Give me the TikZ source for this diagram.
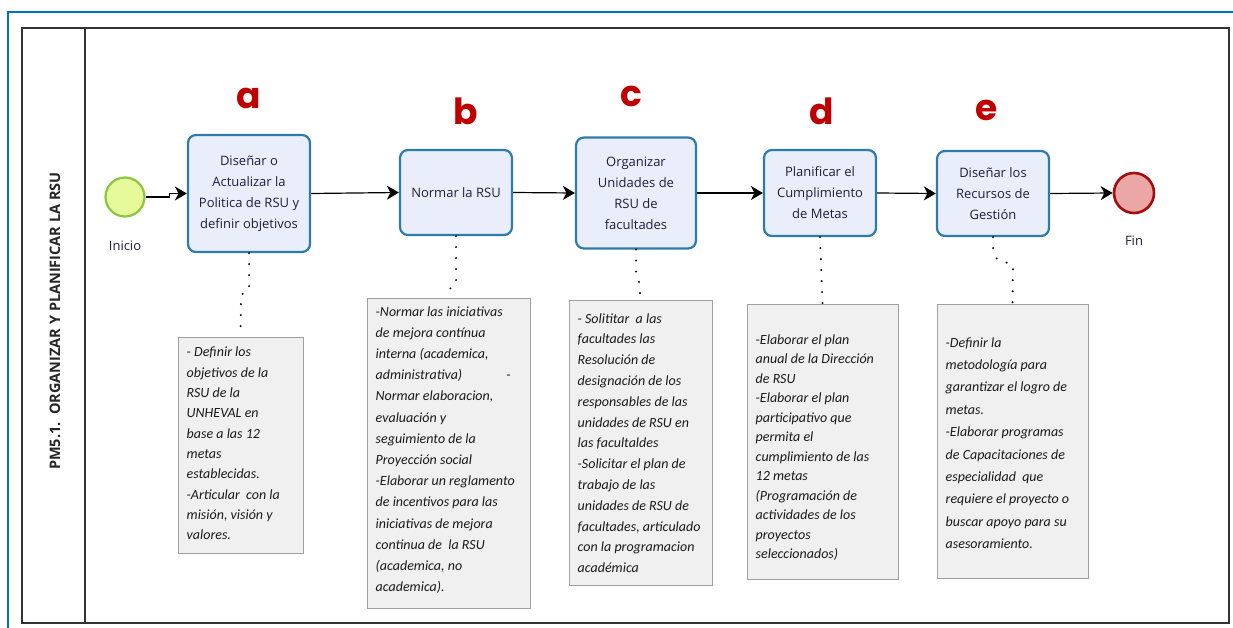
\documentclass[tikz,border=0pt]{standalone}
\usepackage{fontspec}
\setmainfont{Open Sans}
\newfontfamily\notefont{Carlito}
\newfontfamily\letterfont{Poppins}
\usetikzlibrary{arrows.meta}
\definecolor{framblue}{HTML}{0070C0}
\definecolor{taskfill}{HTML}{EAEEFB}
\definecolor{taskline}{HTML}{2C7CAB}
\definecolor{tasktext}{HTML}{1E1E3C}
\definecolor{notefill}{HTML}{F0F0F0}
\definecolor{noteline}{HTML}{A0A0A0}
\definecolor{notetext}{HTML}{1A1A1A}
\definecolor{letterred}{HTML}{C00000}
\definecolor{startfill}{HTML}{E6FA9C}
\definecolor{startline}{HTML}{8CC63E}
\definecolor{endfill}{HTML}{EBA6A6}
\definecolor{endline}{HTML}{A30D0D}
\tikzset{
  taskbox/.style={draw=taskline, line width=2.2pt, fill=taskfill, rounded corners=8pt,
    align=center, text=tasktext, font=\fontsize{13}{21}\selectfont, inner sep=2pt},
  notebox/.style={draw=noteline, line width=1pt, fill=notefill},
  notetxt/.style={text=notetext, align=left, inner sep=0pt, anchor=west, xshift=9pt},
  lettermark/.style={text=letterred, font=\letterfont\bfseries\fontsize{36}{36}\selectfont},
  flow/.style={line width=1.2pt, -{Stealth[length=12pt,width=14pt,inset=3.5pt]}},
  dotline/.style={line width=2.2pt, line cap=round, dash pattern=on 0pt off 11pt},
  evlabel/.style={text=tasktext, font=\fontsize{13}{16}\selectfont},
}
\newcommand{\notesize}[1]{\notefont\itshape\fontsize{14}{#1}\selectfont}
\begin{document}
\begin{tikzpicture}[x=1pt,y=-1pt]
\useasboundingbox (0,0) rectangle (1233,628);
% frames
\draw[framblue, line width=2.5pt] (8,12) rectangle (1245,645);
\draw[black!80, line width=1.3pt] (22,28) rectangle (1229,623);
\draw[black!80, line width=1.3pt] (85,28) -- (85,623);
\node[rotate=90, font=\bfseries\fontsize{14.5}{16}\selectfont, text=black!85] (lane) at (55,321)
  {PM5.1.\ \ ORGANIZAR Y PLANIFICAR LA RSU};

% events
\node[circle, draw=startline, line width=2.2pt, fill=startfill, minimum size=39pt, inner sep=0pt] (st) at (125,197) {};
\node[evlabel] (stl) at (125,246) {Inicio};
\node[circle, draw=endline, line width=2.6pt, fill=endfill, minimum size=40pt, inner sep=0pt] (en) at (1134,193) {};
\node[evlabel] (enl) at (1134,241) {Fin};

% tasks
\node[taskbox, minimum width=122pt, minimum height=117pt] (ta) at (249,193.5)
  {Diseñar o\\Actualizar la\\Politica de RSU y\\definir objetivos};
\node[taskbox, minimum width=112pt, minimum height=85pt] (tb) at (456,192.5) {Normar la RSU};
\node[taskbox, minimum width=120pt, minimum height=111pt] (tc) at (636,193)
  {Organizar\\Unidades de\\RSU de\\facultades};
\node[taskbox, minimum width=112pt, minimum height=86pt] (td) at (820,193)
  {Planificar el\\Cumplimiento\\de Metas};
\node[taskbox, minimum width=112pt, minimum height=85pt] (te) at (993,193.5)
  {Diseñar los\\Recursos de\\Gestión};

% letters
\node[lettermark] (la) at (249,98) {a};
\node[lettermark] (lb) at (466,111) {b};
\node[lettermark] (lc) at (631,96) {c};
\node[lettermark] (ld) at (822,111) {d};
\node[lettermark] (le) at (987,110) {e};

% flows
\draw[flow] (st.east) -- ++(24,0) |- (ta.west);
\draw[flow] (ta.east) -- (tb.west);
\draw[flow] (tb.east) -- (tc.west);
\draw[flow] (tc.east) -- (td.west);
\draw[flow] (td.east) -- (te.west);
\draw[flow] (te.east) -- (en.west);

% notes
\node[notebox, minimum width=125pt, minimum height=216pt] (na) at (240.5,445) {};
\node[notetxt, font=\notesize{20.3}] (nat) at ([yshift=1.5pt]na.west)
  {- Definir los\\objetivos de la\\RSU de la\\UNHEVAL en\\base a las 12\\metas\\establecidas.\\-Articular\ \ con la\\misión, visión y\\valores.};
\node[notebox, minimum width=163pt, minimum height=310pt] (nb) at (448.5,453) {};
\node[notetxt, font=\notesize{21.2}] (nbt) at ([yshift=3pt]nb.west)
  {-Normar las iniciativas\\de mejora contínua\\interna (academica,\\administrativa)\hspace{44pt}-\\Normar elaboracion,\\evaluación y\\seguimiento de la\\Proyección social\\-Elaborar un reglamento\\de incentivos para las\\iniciativas de mejora\\continua de\ \ la RSU\\(academica, no\\academica).};
\node[notebox, minimum width=143pt, minimum height=285pt] (nc) at (640.5,442.5) {};
\node[notetxt, font=\notesize{20.8}] (nct) at ([yshift=-0.5pt]nc.west)
  {- Solititar\ \ a las\\facultades las\\Resolución de\\designación de los\\responsables de las\\unidades de RSU en\\las facultaldes\\-Solicitar el plan de\\trabajo de las\\unidades de RSU de\\facultades, articulado\\con la programacion\\académica};
\node[notebox, minimum width=151pt, minimum height=275pt] (nd) at (822.5,441.5) {};
\node[notetxt, font=\notesize{19.5}] (ndt) at ([yshift=-6pt]nd.west)
  {-Elaborar el plan\\anual de la Dirección\\de RSU\\-Elaborar el plan\\participativo que\\permita el\\cumplimiento de las\\12 metas\\(Programación de\\actividades de los\\proyectos\\seleccionados)};
\node[notebox, minimum width=151pt, minimum height=274pt] (ne) at (1012.5,441) {};
\node[notetxt, font=\notesize{22.4}] (net) at ([yshift=-2pt]ne.west)
  {-Definir la\\metodología para\\garantizar el logro de\\metas.\\-Elaborar programas\\de Capacitaciones de\\especialidad\ \ que\\requiere el proyecto o\\buscar apoyo para su\\asesoramiento.};

% associations
\draw[dotline] (ta.south) -- ++(0,36) -- ++(-8,6) -- (na.north);
\draw[dotline] (tb.south) -- ++(0,48) -- ++(-9,7) -- (nb.north);
\draw[dotline] (tc.south) -- ++(0,24) -- ++(3,7) -- (nc.north);
\draw[dotline] (td.south) -- (nd.north);
\draw[dotline] (te.south) -- ++(0,12) -- ++(4,10) -- ++(16,6) -- (ne.north);
\end{tikzpicture}
\end{document}
